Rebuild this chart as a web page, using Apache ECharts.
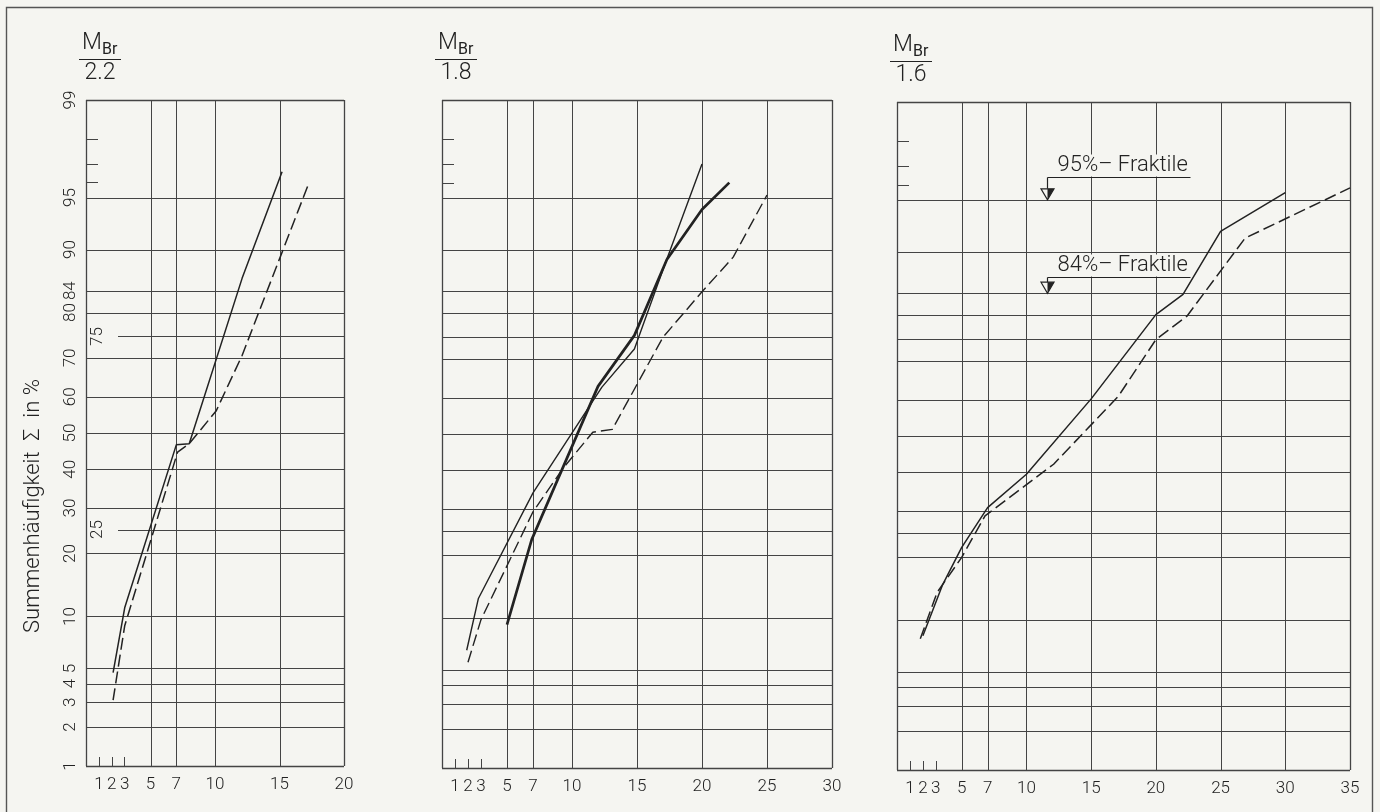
<!DOCTYPE html>
<html>
<head>
<meta charset="utf-8">
<script src="https://cdn.jsdelivr.net/npm/echarts@6/dist/echarts.min.js"></script>
<style>
html,body{margin:0;padding:0;background:#f5f5f1;}
#c{width:1380px;height:812px;}
</style>
</head>
<body>
<div id="c"></div>
<script>
// ---------------- DATA ----------------
const panelDenominators = ['2.2', '1.8', '1.6'];
const xAxisMax = [20, 30, 35];
const xTickLabels = [
  [1, 2, 3, 5, 7, 10, 15, 20],
  [1, 2, 3, 5, 7, 10, 15, 20, 25, 30],
  [1, 2, 3, 5, 7, 10, 15, 20, 25, 30, 35]
];
const xMinorTicks = [1, 2, 3];
const xGridLines = [
  [0, 5, 7, 10, 15, 20],
  [0, 5, 7, 10, 15, 20, 25, 30],
  [0, 5, 7, 10, 15, 20, 25, 30, 35]
];
const yGridPercents = [1, 2, 3, 4, 5, 10, 20, 25, 30, 40, 50, 60, 70, 75, 80, 84, 90, 95, 99];
const yShortTicks = [96, 97, 98];
const yLabelPercents = [1, 2, 3, 4, 5, 10, 20, 25, 30, 40, 50, 60, 70, 75, 80, 84, 90, 95, 99];
const yInnerLabelPercents = [25, 75];

// Panel 1: M_Br / 2.2
const p1SolidX = [2.1, 3, 7, 8, 12.1, 15.2];
const p1SolidP = [4.7, 11.1, 46.7, 47, 86, 96.6];
const p1DashX  = [2.1, 3, 7.1, 8, 10.1, 12.1, 17.2];
const p1DashP  = [3.1, 8.9, 44.7, 47, 56.2, 70.6, 95.8];

// Panel 2: M_Br / 1.8
const p2ThinX  = [1.9, 2.8, 7, 12.3, 14.8, 17.1, 20];
const p2ThinP  = [6.6, 12.6, 34.1, 62.8, 72.3, 87.9, 97];
const p2ThickX = [5, 6.9, 12, 14.8, 17.3, 20, 22.1];
const p2ThickP = [9.2, 23.1, 63, 75.4, 88.8, 94.1, 96];
const p2DashX  = [2, 3, 7, 9.3, 11.6, 13.1, 17, 20, 22.4, 25];
const p2DashP  = [5.6, 9.8, 29.4, 40.5, 50.5, 51.3, 75, 83.9, 89.1, 95.2];

// Panel 3: M_Br / 1.6
const p3SolidX = [2, 3.5, 5, 7, 10, 15, 20, 22.1, 25, 30];
const p3SolidP = [8.2, 14.9, 21.9, 30.9, 39.5, 60.2, 80.1, 83.8, 92.3, 95.5];
const p3DashX  = [1.8, 3.1, 5, 6.8, 12.1, 17.1, 20, 22.4, 26.9, 35];
const p3DashP  = [7.9, 13.8, 19.9, 28.9, 42.2, 60.9, 74.9, 79.8, 91.6, 95.8];

const fraktileLabels = ['95%– Fraktile', '84%– Fraktile'];
const fraktilePercents = [95, 84];
const fraktileAnchorX = [11.6, 11.6];

// ---------------- STYLE ----------------
const BG = '#f5f5f1';
const INK = '#222222';
const GRID = '#444444';
const FAM = 'Roboto, "DejaVu Sans", sans-serif';
const font = (size, w) => (w || 300) + ' ' + size + 'px ' + FAM;

// inverse normal CDF (probability paper scale)
function probit(p) {
  const a = [-3.969683028665376e+01, 2.209460984245205e+02, -2.759285104469687e+02, 1.383577518672690e+02, -3.066479806614716e+01, 2.506628277459239e+00];
  const b = [-5.447609879822406e+01, 1.615858368580409e+02, -1.556989798598866e+02, 6.680131188771972e+01, -1.328068155288572e+01];
  const c = [-7.784894002430293e-03, -3.223964580411365e-01, -2.400758277161838e+00, -2.549671010050104e+00, 4.374664141464968e+00, 2.938163982698783e+00];
  const d = [7.784695709041462e-03, 3.224671290700398e-01, 2.445134137142996e+00, 3.754408661907416e+00];
  const plow = 0.02425, phigh = 1 - plow;
  let q, r;
  if (p < plow) {
    q = Math.sqrt(-2 * Math.log(p));
    return (((((c[0]*q+c[1])*q+c[2])*q+c[3])*q+c[4])*q+c[5]) / ((((d[0]*q+d[1])*q+d[2])*q+d[3])*q+1);
  }
  if (p <= phigh) {
    q = p - 0.5; r = q * q;
    return (((((a[0]*r+a[1])*r+a[2])*r+a[3])*r+a[4])*r+a[5])*q / (((((b[0]*r+b[1])*r+b[2])*r+b[3])*r+b[4])*r+1);
  }
  q = Math.sqrt(-2 * Math.log(1 - p));
  return -(((((c[0]*q+c[1])*q+c[2])*q+c[3])*q+c[4])*q+c[5]) / ((((d[0]*q+d[1])*q+d[2])*q+d[3])*q+1);
}
const Z = pct => probit(pct / 100);
const zMax = Z(99);
const pts = (xs, ps) => xs.map((x, i) => [x, Z(ps[i])]);

// ---------------- LAYOUT ----------------
const grids = [
  { left: 86,  top: 100, width: 258, height: 666 },
  { left: 442, top: 100, width: 390, height: 668 },
  { left: 897, top: 102, width: 453, height: 668 }
];

function px(v) { return Math.round(v) + 0.5; }

function paperRender(panel) {
  return function (params, api) {
    const cs = params.coordSys;
    const x0 = cs.x, x1 = cs.x + cs.width, y0 = cs.y, y1 = cs.y + cs.height;
    const ch = [];
    const ln = (ax, ay, bx, by, w) => ({
      type: 'line', silent: true,
      shape: { x1: ax, y1: ay, x2: bx, y2: by },
      style: { stroke: GRID, lineWidth: w || 1 }
    });
    yGridPercents.forEach(p => {
      const y = px(api.coord([0, Z(p)])[1]);
      const start = (panel === 0 && yInnerLabelPercents.indexOf(p) >= 0) ? x0 + 32 : x0;
      ch.push(ln(start, y, x1, y, (p === 1 || p === 99) ? 1.3 : 1));
    });
    yShortTicks.forEach(p => {
      const y = px(api.coord([0, Z(p)])[1]);
      ch.push(ln(x0, y, x0 + 12, y));
    });
    xGridLines[panel].forEach(v => {
      const x = px(api.coord([v, 0])[0]);
      const edge = (v === 0 || v === xAxisMax[panel]);
      ch.push(ln(x, y0, x, y1, edge ? 1.3 : 1));
    });
    if (panel === 0) {
      yLabelPercents.forEach(p => {
        const y = api.coord([0, Z(p)])[1];
        const inner = yInnerLabelPercents.indexOf(p) >= 0;
        ch.push({
          type: 'text', silent: true,
          x: inner ? x0 + 12 : x0 - 15, y: y, rotation: Math.PI / 2,
          style: { text: String(p), font: font(17), fill: INK,
                   textAlign: 'center', textVerticalAlign: 'middle',
                   align: 'center', verticalAlign: 'middle' }
        });
      });
    }
    return { type: 'group', children: ch };
  };
}

function fraktileRender(params, api) {
  const i = params.dataIndex;
  const pt = api.coord([api.value(0), api.value(1)]);
  const tx = px(pt[0]), ty = pt[1];
  const drop = i === 0 ? 23 : 16;
  const uy = px(ty - drop);
  const th = 11, tw = 6.5, len = 143;
  return {
    type: 'group',
    children: [
      { type: 'text', x: tx + 7, y: uy - 1,
        style: { text: fraktileLabels[i], font: font(22), fill: INK,
                 textAlign: 'left', textVerticalAlign: 'bottom',
                 align: 'left', verticalAlign: 'bottom',
                 backgroundColor: BG, padding: [0, 3, 0, 3] } },
      { type: 'line', shape: { x1: tx, y1: uy, x2: tx + len, y2: uy }, style: { stroke: INK, lineWidth: 1.2 } },
      { type: 'line', shape: { x1: tx, y1: uy, x2: tx, y2: ty - th }, style: { stroke: INK, lineWidth: 1.2 } },
      { type: 'polygon', shape: { points: [[tx - tw, ty - th], [tx + tw, ty - th], [tx, ty]] },
        style: { fill: BG, stroke: INK, lineWidth: 1.2 } },
      { type: 'polygon', shape: { points: [[tx, ty - th], [tx + tw, ty - th], [tx, ty]] },
        style: { fill: INK } }
    ]
  };
}

// ---------------- OPTION ----------------
const xAxes = grids.map((g, i) => ({
  gridIndex: i, type: 'value', min: 0, max: xAxisMax[i], position: 'bottom',
  axisLine: { show: false, onZero: false },
  splitLine: { show: false },
  axisTick: { show: true, inside: true, length: 9, customValues: xMinorTicks,
              lineStyle: { color: GRID, width: 1 } },
  axisLabel: { customValues: xTickLabels[i], margin: 10, fontSize: 17,
               fontFamily: FAM, fontWeight: 300, color: INK }
}));
const yAxes = grids.map((g, i) => ({
  gridIndex: i, type: 'value', min: -zMax, max: zMax, show: false,
  axisLine: { onZero: false }
}));

const series = [];
grids.forEach((g, i) => {
  series.push({
    type: 'custom', xAxisIndex: i, yAxisIndex: i, silent: true, z: 1,
    renderItem: paperRender(i), data: [[0, 0]]
  });
});
const lineS = (i, data, width, dash) => ({
  type: 'line', xAxisIndex: i, yAxisIndex: i, data: data, symbol: 'none',
  silent: true, z: 3, clip: false,
  lineStyle: { color: INK, width: width, type: dash ? [12, 5] : 'solid', join: 'round' }
});
series.push(lineS(0, pts(p1SolidX, p1SolidP), 1.5, false));
series.push(lineS(0, pts(p1DashX, p1DashP), 1.5, true));
series.push(lineS(1, pts(p2ThinX, p2ThinP), 1.4, false));
series.push(lineS(1, pts(p2ThickX, p2ThickP), 2.7, false));
series.push(lineS(1, pts(p2DashX, p2DashP), 1.4, true));
series.push(lineS(2, pts(p3SolidX, p3SolidP), 1.5, false));
series.push(lineS(2, pts(p3DashX, p3DashP), 1.5, true));
series.push({
  type: 'custom', xAxisIndex: 2, yAxisIndex: 2, silent: true, z: 5,
  renderItem: fraktileRender,
  data: fraktilePercents.map((p, k) => [fraktileAnchorX[k], Z(p)])
});

// headers and title (graphic)
const graphics = [
  { type: 'rect', shape: { x: 6.5, y: 7.5, width: 1366, height: 830 },
    style: { fill: 'none', stroke: '#555', lineWidth: 1.4 }, silent: true },
  { type: 'text', x: 33, y: 506, rotation: Math.PI / 2,
    style: { text: 'Summenhäufigkeit  Σ  in %', font: font(22), fill: INK,
             textAlign: 'center', textVerticalAlign: 'middle', align: 'center', verticalAlign: 'middle' } }
];
grids.forEach((g, i) => {
  const lx = g.left - 4;
  const top = g.top;
  graphics.push({ type: 'text', x: lx, y: top - 57,
    style: { text: 'M', font: font(23), fill: INK, textAlign: 'left', textVerticalAlign: 'middle', align: 'left', verticalAlign: 'middle' } });
  graphics.push({ type: 'text', x: lx + 20, y: top - 50,
    style: { text: 'Br', font: font(16, 400), fill: INK, textAlign: 'left', textVerticalAlign: 'middle', align: 'left', verticalAlign: 'middle' } });
  graphics.push({ type: 'line', shape: { x1: lx - 3, y1: top - 40.5, x2: lx + 39, y2: top - 40.5 },
    style: { stroke: INK, lineWidth: 1.2 } });
  graphics.push({ type: 'text', x: lx + 18, y: top - 27,
    style: { text: panelDenominators[i], font: font(23), fill: INK, textAlign: 'center', textVerticalAlign: 'middle', align: 'center', verticalAlign: 'middle' } });
});

const chart = echarts.init(document.getElementById('c'), null, { renderer: 'canvas' });
chart.setOption({
  backgroundColor: BG,
  animation: false,
  grid: grids.map(g => Object.assign({ containLabel: false, show: false }, g)),
  xAxis: xAxes,
  yAxis: yAxes,
  series: series,
  graphic: graphics
});
</script>
</body>
</html>
